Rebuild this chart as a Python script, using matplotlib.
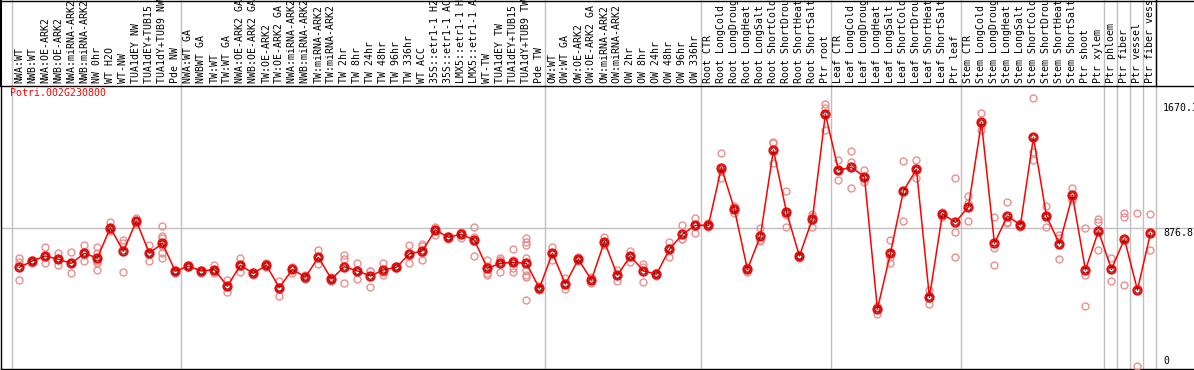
import matplotlib
matplotlib.use("Agg")
import matplotlib.pyplot as plt
from matplotlib.transforms import blended_transform_factory

gene = "Potri.002G230800"

samples = [
    "NWA:WT", "NWB:WT", "NWA:OE-ARK2", "NWB:OE-ARK2", "NWA:miRNA-ARK2", "NWB:miRNA-ARK2",
    "NW 0hr", "WT H2O", "WT-NW", "TUA1dEY NW", "TUA1dEY+TUB15 NW", "TUA1dY+TUB9 NW", "Pde NW",
    "NWA:WT GA", "NWBWT GA", "TW:WT", "TW:WT GA", "NWA:OE-ARK2 GA", "NWB:OE-ARK2 GA",
    "TW:OE-ARK2", "TW:OE-ARK2 GA", "NWA:miRNA-ARK2 GA", "NWB:miRNA-ARK2 GA", "TW:miRNA-ARK2",
    "TW:miRNA-ARK2 GA", "TW 2hr", "TW 8hr", "TW 24hr", "TW 48hr", "TW 96hr", "TW 336hr",
    "WT ACC", "35S::etr1-1 H2O", "35S::etr1-1 ACC", "LMX5::etr1-1 H2O", "LMX5::etr1-1 ACC",
    "WT-TW", "TUA1dEY TW", "TUA1dEY+TUB15 TW", "TUA1dY+TUB9 TW", "Pde TW",
    "OW:WT", "OW:WT GA", "OW:OE-ARK2", "OW:OE-ARK2 GA", "OW:miRNA-ARK2", "OW:miRNA-ARK2 GA",
    "OW 2hr", "OW 8hr", "OW 24hr", "OW 48hr", "OW 96hr", "OW 336hr",
    "Root CTR", "Root LongCold", "Root LongDrought", "Root LongHeat", "Root LongSalt",
    "Root ShortCold", "Root ShortDrought", "Root ShortHeat", "Root ShortSalt", "Ptr root",
    "Leaf CTR", "Leaf LongCold", "Leaf LongDrought", "Leaf LongHeat", "Leaf LongSalt",
    "Leaf ShortCold", "Leaf ShortDrought", "Leaf ShortHeat", "Leaf ShortSalt", "Ptr leaf",
    "Stem CTR", "Stem LongCold", "Stem LongDrought", "Stem LongHeat", "Stem LongSalt",
    "Stem ShortCold", "Stem ShortDrought", "Stem ShortHeat", "Stem ShortSalt", "Ptr shoot",
    "Ptr xylem", "Ptr phloem", "Ptr fiber", "Ptr vessel", "Ptr fiber vessel",
]

# first sample index of each group (last entry closes the final group)
group_starts = [0, 13, 41, 53, 63, 73, 84, 85, 86, 87, 88]

means = [
    627, 667, 699, 678, 652, 716, 686, 879, 729, 921, 716, 780, 602,
    635, 604, 613, 507, 640, 589, 640, 497, 614, 564, 691, 553, 631, 604, 572, 610,
    627, 712, 731, 864, 818, 837, 800, 621, 652, 659, 652, 494,
    716, 521, 678, 546, 790, 576, 699, 604, 583, 741, 837, 894,
    894, 1261, 997, 614, 826, 1372, 980, 699, 934, 1601,
    1245, 1262, 1203, 362, 716, 1112, 1250, 436, 966, 913,
    1012, 1548, 780, 953, 896, 1453, 953, 775, 1084, 610, 858,
    614, 807, 483, 843,
]

replicates = [
    [688, 661, 546], [673, 652, 667], [754, 656, 699], [716, 642, 678], [722, 589, 652],
    [767, 664, 716], [756, 718, 667, 652, 612], [915, 864, 858], [800, 783, 595],
    [942, 921, 902], [767, 716, 664], [889, 826, 813, 762, 718, 686], [610, 594, 602],
    [642, 629, 635], [613, 594, 604], [642, 589, 610], [546, 468, 507], [684, 599, 635],
    [600, 578, 589], [656, 629, 640], [542, 447, 503], [631, 589, 623], [575, 550, 566],
    [737, 646, 690], [565, 540, 553], [705, 678, 525], [652, 551, 604], [605, 504, 604],
    [652, 579, 600], [638, 620, 627], [767, 652, 716], [775, 762, 673, 718],
    [885, 832, 873], [829, 810, 818], [843, 811, 854], [885, 821, 699, 797],
    [673, 593, 578, 635], [684, 599, 673], [741, 621, 599, 673],
    [815, 790, 769, 684, 610, 578, 564, 419], [510, 486, 494],
    [758, 673, 716], [557, 487, 521], [690, 667, 678], [525, 568, 546], [818, 769, 783],
    [610, 542, 576], [733, 663, 699], [648, 534, 629], [594, 572, 583], [786, 691, 750],
    [896, 807, 807], [938, 847, 896],
    [906, 881, 894], [1351, 1192, 1239], [1016, 970, 1006], [599, 629, 614], [879, 800, 796],
    [1425, 1415, 1288], [1112, 959, 881], [684, 705, 707], [966, 881, 955], [1665, 1637, 1499],
    [1309, 1182, 1245], [1366, 1298, 1129], [1245, 1171, 1192], [377, 330, 379],
    [800, 656, 691], [1302, 921, 1112], [1309, 1192, 1247], [483, 392, 434], [980, 948, 968],
    [1192, 849, 691],
    [1080, 921, 1036], [1605, 1499, 1540], [948, 752, 642], [1040, 907, 913], [881, 908, 898],
    [1701, 1361, 1309], [1016, 881, 961], [832, 678, 815], [1133, 1055, 1065],
    [875, 578, 381], [932, 917, 735],
    [684, 542], [970, 949, 515], [970, 0], [964, 735],
]

axis_labels = ["1670.3", "876.8", "0"]
axis_values = [1670.3, 876.8, 0]

FONT = "DejaVu Sans Mono"
FS = 7.1
GRID = "#c0c0c0"

W, H = 1194, 370
fig = plt.figure(figsize=(W / 100, H / 100), dpi=100)
# plot region: x 1..1194 px, y 86..369 px (from top)
ax = fig.add_axes([1 / W, 1 / H, (W - 1) / W, 283 / H])
ax.set_xlim(-1.41, 90.35)
ax.set_ylim(-19.1, 1779)
ax.set_xticks([])
ax.set_yticks([])
ax.spines["right"].set_visible(False)
for s in ["left", "bottom", "top"]:
    ax.spines[s].set_linewidth(1.0)

top_y = 1 + 86 / 283.0
bt = blended_transform_factory(ax.transData, ax.transAxes)

# group separators
for g in group_starts:
    ax.axvline(g - 0.6, ymin=0, ymax=top_y, color=GRID, lw=1.0, clip_on=False, zorder=1)
ax.plot([group_starts[-1] - 0.6] * 2, [1.0, top_y], color="black", lw=1.0,
        transform=bt, clip_on=False, zorder=2)
ax.plot([-1.41, -1.41], [1.0, top_y], color="black", lw=1.5, transform=bt, clip_on=False)
ax.plot([-1.41, 90.35], [top_y - 0.002, top_y - 0.002], color="black", lw=1.0,
        transform=bt, clip_on=False)

ax.axhline(876.8, color=GRID, lw=1.0, zorder=1)

# sample labels in the header
for i, name in enumerate(samples):
    ax.text(i, 1 + 3 / 283.0, name, rotation=90, ha="center", va="bottom",
            family=FONT, fontsize=FS, transform=bt, clip_on=False)

# replicate values
for i, reps in enumerate(replicates):
    ax.plot([i] * len(reps), reps, "o", ms=5.0, mfc="none", mec="#e89090", mew=1.0,
            linestyle="none", zorder=3, clip_on=False)

x = list(range(len(means)))
ax.plot(x, means, "-", color="red", lw=1.1, zorder=4)
ax.plot(x, means, "o", ms=6.0, mfc="none", mec="red", mew=1.4, linestyle="none", zorder=5)
ax.plot(x, means, "o", ms=3.8, mfc="none", mec="#600000", mew=0.7, linestyle="none", zorder=6)

ax.text(-0.7, 1735, gene, color="red", family=FONT, fontsize=FS, ha="left", va="center")

for lab, v in zip(axis_labels, axis_values):
    ax.text(87.98, v, lab, family=FONT, fontsize=FS, ha="left",
            va="bottom" if v == 0 else "top", clip_on=False)

fig.savefig("out.png", dpi=100)
